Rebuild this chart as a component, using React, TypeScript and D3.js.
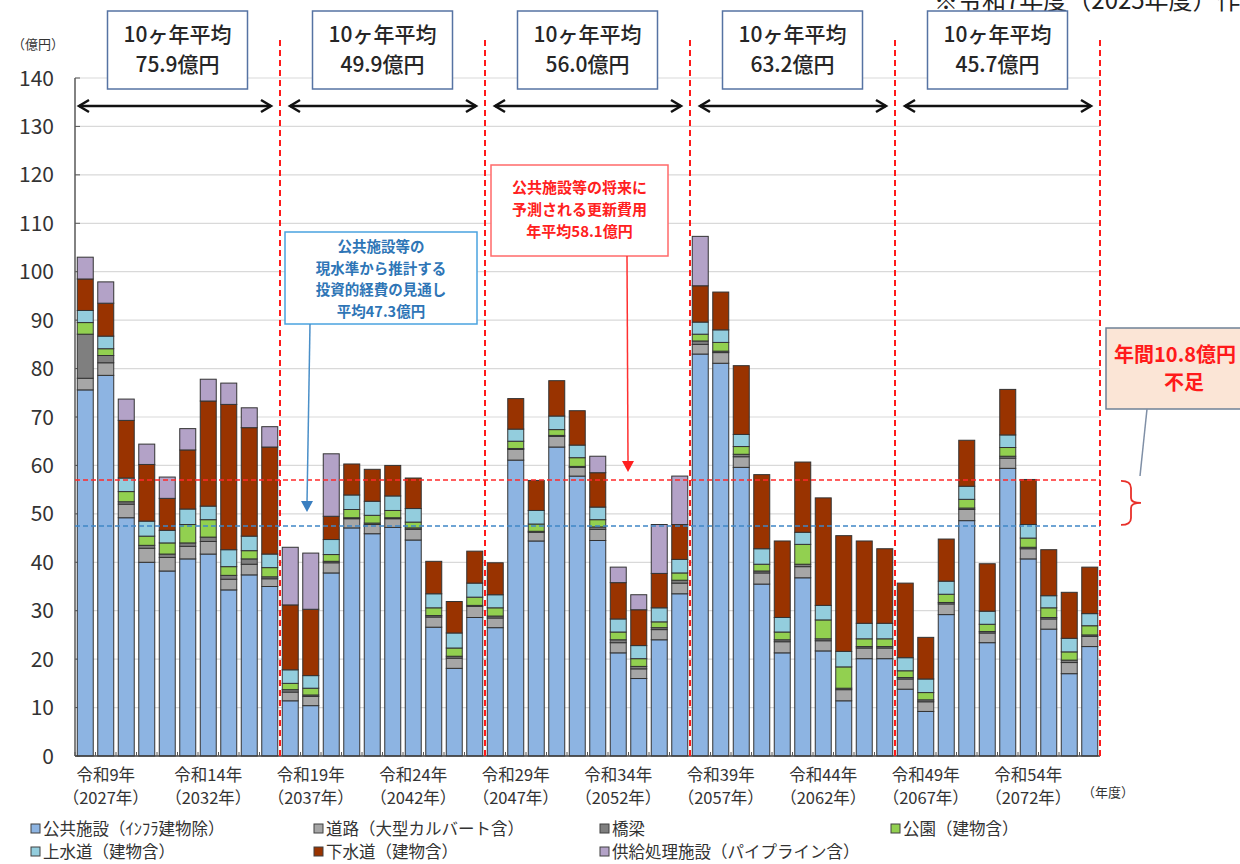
import React from 'react';
import * as d3 from 'd3';

// ---- data (億円) ----
const publicFacilities = [75.6,78.6,49.2,40.0,38.2,40.7,41.7,34.3,37.4,35.0, 11.4,10.4,37.8,47.1,45.9,47.2,44.6,26.6,18.1,28.6, 26.5,61.1,44.4,63.8,57.8,44.5,21.3,16.0,24.0,33.5, 83.0,81.1,59.6,35.5,21.3,36.8,21.7,11.4,20.1,20.1, 13.8,9.2,29.2,48.6,23.4,59.4,40.7,26.2,17.0,22.6];
const roads = [2.4,2.6,2.8,2.9,2.8,2.6,2.6,2.2,2.2,1.6, 1.8,1.9,2.1,1.9,1.9,1.8,2.2,2.1,2.1,2.3, 2.0,2.2,1.8,2.2,1.8,2.3,2.1,2.0,2.1,2.2, 2.0,2.2,2.2,2.3,2.3,2.3,2.1,2.3,2.2,2.2, 2.1,2.0,2.2,2.3,2.0,2.1,2.1,2.1,2.3,2.1];
const bridges = [9.1,1.5,0.5,0.6,0.7,0.7,0.9,0.8,1.1,0.4, 0.5,0.3,0.3,0.2,0.3,0.2,0.3,0.3,0.4,0.2, 0.4,0.2,0.2,0.2,0.2,0.5,0.6,0.5,0.4,0.6, 0.7,0.3,0.5,0.4,0.4,0.5,0.4,0.3,0.3,0.3, 0.3,0.4,0.3,0.3,0.3,0.4,0.3,0.3,0.5,0.3];
const parks = [2.4,1.4,2.1,1.9,2.3,3.8,3.6,1.8,1.7,1.9, 1.3,1.4,1.4,1.7,1.6,1.5,1.2,1.6,1.7,1.7, 1.7,1.5,1.5,1.2,1.8,1.5,1.6,1.6,1.2,1.5, 1.4,1.8,1.6,1.4,1.6,4.1,3.9,4.4,1.6,1.6, 1.4,1.5,1.7,1.8,1.5,1.8,1.9,2.0,1.7,1.9];
const waterSupply = [2.5,2.6,2.8,3.1,2.6,3.2,2.8,3.5,3.0,2.8, 2.8,2.6,3.1,3.0,2.9,3.0,2.8,2.9,3.1,2.9, 2.7,2.5,2.8,2.8,2.6,2.6,2.7,2.7,2.9,2.8, 2.5,2.6,2.5,3.2,3.0,2.5,3.0,3.2,3.2,3.2, 2.7,2.8,2.7,2.7,2.7,2.6,2.8,2.5,2.8,2.5];
const sewerage = [6.5,6.8,11.9,11.7,6.6,12.2,21.7,30.0,22.4,22.1, 13.4,13.7,4.8,6.4,6.6,6.3,6.3,6.7,6.5,6.6, 6.6,6.3,6.2,7.3,7.1,7.1,7.5,7.4,7.1,7.2, 7.5,7.8,14.2,15.3,15.8,14.5,22.2,23.9,17.0,15.4, 15.4,8.6,8.7,9.5,9.8,9.4,9.3,9.5,9.5,9.6];
const supplyFacilities = [4.5,4.4,4.4,4.2,4.4,4.4,4.5,4.4,4.1,4.2, 11.9,11.6,12.9,0,0,0,0,0,0,0, 0,0,0,0,0,3.4,3.2,3.1,10.1,10.0, 10.2,0,0,0,0,0,0,0,0,0, 0,0,0,0,0,0,0,0,0,0];

const seriesNames = ['公共施設（ｲﾝﾌﾗ建物除）','道路（大型カルバート含）','橋梁','公園（建物含）','上水道（建物含）','下水道（建物含）','供給処理施設（パイプライン含）'];
const seriesColors = ['#8db4e2','#a6a6a6','#7f7f7f','#92d050','#93cddd','#993300','#b3a2c7'];

const tickEra = ['令和9年','令和14年','令和19年','令和24年','令和29年','令和34年','令和39年','令和44年','令和49年','令和54年'];
const tickWestern = ['（2027年）','（2032年）','（2037年）','（2042年）','（2047年）','（2052年）','（2057年）','（2062年）','（2067年）','（2072年）'];
const yTicks = [0,10,20,30,40,50,60,70,80,90,100,110,120,130,140];

const decadeAverages = ['75.9','49.9','56.0','63.2','45.7'];
const investmentLine = 47.5; // 投資的経費の見通し（平均47.3億円）
const renewalLine = 57.0;    // 更新費用（年平均58.1億円）

const W = 1240, H = 864;
const X0 = 75, X1 = 1100;
const FONT = '"Noto Sans CJK JP", "Noto Sans", sans-serif';

export default function App() {
  const allSeries = [publicFacilities, roads, bridges, parks, waterSupply, sewerage, supplyFacilities];
  const n = publicFacilities.length;
  const keys = seriesNames.map((_, k) => 's' + k);
  const rows = d3.range(n).map(i => {
    const r: any = { i };
    allSeries.forEach((s, k) => (r['s' + k] = s[i]));
    return r;
  });
  const stacked = d3.stack<any>().keys(keys)(rows);

  const x = d3.scaleBand<number>().domain(d3.range(n)).range([X0, X1]).paddingInner(0.22).paddingOuter(0.11);
  const step = x.step();
  const y = d3.scaleLinear().domain([0, 140]).range([756, 78]);
  const slot = (i: number) => X0 + i * step;

  const groups = d3.range(5);
  const legendCols = [31, 314, 600, 891];
  const legendPos = [[0, 0], [1, 0], [2, 0], [3, 0], [0, 1], [1, 1], [2, 1]];
  const yR = y(renewalLine), yI = y(investmentLine), yM = (yR + yI) / 2;

  return (
    <svg width={W} height={H} style={{ position: 'absolute', left: 0, top: 0, background: '#fff' }} fontFamily={FONT}>
      <rect x={0} y={0} width={W} height={H} fill="#fff" />
      {/* top-right note (clipped at the top edge as in the source) */}
      <text x={934} y={9} fontSize={24} fill="#222">※令和7年度（2025年度）作成</text>

      {/* gridlines */}
      {yTicks.filter(v => v > 0).map(v => (
        <line key={v} x1={X0} x2={X1} y1={y(v)} y2={y(v)} stroke="#d9d9d9" strokeWidth={1.2} />
      ))}
      {/* y tick labels */}
      {yTicks.map(v => (
        <g key={'t' + v}>
          <line x1={X0} x2={X0 + 5} y1={y(v)} y2={y(v)} stroke="#595959" />
          <text x={54} y={y(v)} dy="0.36em" textAnchor="end" fontSize={21} fill="#333">{v}</text>
        </g>
      ))}
      <text x={12} y={49} fontSize={13} fill="#333">（億円）</text>

      {/* bars */}
      {stacked.map((layer, k) => (
        <g key={k} fill={seriesColors[k]} stroke="#333" strokeWidth={1}>
          {layer.map((d, i) => (d[1] - d[0] > 0 ? (
            <rect key={i} x={x(i)} width={x.bandwidth()} y={y(d[1])} height={y(d[0]) - y(d[1])} />
          ) : null))}
        </g>
      ))}

      {/* axes */}
      <line x1={X0} x2={X0} y1={y(140)} y2={y(0)} stroke="#595959" strokeWidth={1.5} />
      <line x1={X0} x2={X1} y1={y(0)} y2={y(0)} stroke="#404040" strokeWidth={1.5} />
      {d3.range(n + 1).map(i => (
        <line key={'xt' + i} x1={slot(i)} x2={slot(i)} y1={y(0)} y2={y(0) - 4} stroke="#595959" />
      ))}

      {/* horizontal reference lines */}
      <line x1={X0} x2={X1} y1={yR} y2={yR} stroke="#ff2a2a" strokeWidth={1.4} strokeDasharray="5,3" />
      <line x1={X0} x2={X1} y1={yI} y2={yI} stroke="#3f86c6" strokeWidth={1.4} strokeDasharray="5,3" />

      {/* decade separators */}
      {groups.map(g => (
        <line key={'sep' + g} x1={slot((g + 1) * 10)} x2={slot((g + 1) * 10)} y1={40} y2={y(0)} stroke="#ff1a1a" strokeWidth={2} strokeDasharray="6,4" />
      ))}

      {/* decade arrows and boxes */}
      {groups.map(g => {
        const a = slot(g * 10) + (g === 0 ? 4 : 10);
        const b = slot((g + 1) * 10) - 9;
        const cx = (slot(g * 10) + slot((g + 1) * 10)) / 2;
        const ay = 106;
        return (
          <g key={'dec' + g}>
            <line x1={a} x2={b} y1={ay} y2={ay} stroke="#111" strokeWidth={2.5} />
            <polyline points={`${a + 10},${ay - 6} ${a},${ay} ${a + 10},${ay + 6}`} fill="none" stroke="#111" strokeWidth={2.5} />
            <polyline points={`${b - 10},${ay - 6} ${b},${ay} ${b - 10},${ay + 6}`} fill="none" stroke="#111" strokeWidth={2.5} />
            <rect x={cx - 70} y={11} width={140} height={78} fill="#fff" stroke="#5673a3" strokeWidth={1.5} />
            <text x={cx} y={42} textAnchor="middle" fontSize={21} fill="#262626" fontWeight={500}>10ヶ年平均</text>
            <text x={cx} y={72} textAnchor="middle" fontSize={21} fill="#262626" fontWeight={500}>{decadeAverages[g]}億円</text>
          </g>
        );
      })}

      {/* blue annotation */}
      <rect x={285} y={232} width={192} height={92} fill="#fff" stroke="#4aa3df" strokeWidth={1.5} />
      {['公共施設等の', '現水準から推計する', '投資的経費の見通し', '平均47.3億円'].map((t, i) => (
        <text key={'b' + i} x={381} y={252 + i * 21.5} textAnchor="middle" fontSize={14.5} fill="#2e75b6" fontWeight={600}>{t}</text>
      ))}
      <line x1={310} y1={324} x2={307} y2={503} stroke="#4a8fc8" strokeWidth={1.5} />
      <polygon points={`301,501 313,501 307,512`} fill="#3a7fc0" />

      {/* red annotation */}
      <rect x={491} y={165} width={177} height={91} fill="#fff" stroke="#ff6a6a" strokeWidth={1.5} />
      {['公共施設等の将来に', '予測される更新費用', '年平均58.1億円'].map((t, i) => (
        <text key={'r' + i} x={579.5} y={193 + i * 22} textAnchor="middle" fontSize={15} fill="#ff2020" fontWeight={600}>{t}</text>
      ))}
      <line x1={627} y1={256} x2={628} y2={462} stroke="#ff3030" strokeWidth={1.5} />
      <polygon points={`622,461 634,461 628,472`} fill="#ff2020" />

      {/* shortfall annotation */}
      <rect x={1106} y={328} width={150} height={81} fill="#fbe5d6" stroke="#6f8196" strokeWidth={1.5} />
      <text x={1175} y={362} textAnchor="middle" fontSize={20} fill="#ff1a1a" fontWeight={700}>年間10.8億円</text>
      <text x={1184} y={390} textAnchor="middle" fontSize={20} fill="#ff1a1a" fontWeight={700}>不足</text>
      <line x1={1147} y1={409} x2={1140} y2={476} stroke="#7f8fa6" strokeWidth={1.5} />
      <path d={`M1121,${yR + 1} Q1131,${yR + 1} 1131,${yR + 8} L1131,${yM - 5} Q1131,${yM} 1141,${yM} Q1131,${yM} 1131,${yM + 5} L1131,${yI - 8} Q1131,${yI - 1} 1121,${yI - 1}`}
        fill="none" stroke="#e8302a" strokeWidth={1.8} />

      {/* x labels */}
      {tickEra.map((t, k) => (
        <g key={'xl' + k}>
          <text x={slot(k * 5) + 1.5 * step} y={781} textAnchor="middle" fontSize={16.5} fill="#333">{t}</text>
          <text x={slot(k * 5) + 1.5 * step} y={804} textAnchor="middle" fontSize={16.5} fill="#333">{tickWestern[k]}</text>
        </g>
      ))}
      <text x={1082} y={797} fontSize={13} fill="#333">（年度）</text>

      {/* legend */}
      {seriesNames.map((name, k) => {
        const [c, r] = legendPos[k];
        const lx = legendCols[c];
        const ly = 829 + r * 23;
        return (
          <g key={'lg' + k}>
            <rect x={lx} y={ly - 5} width={9} height={9} fill={seriesColors[k]} stroke="#404040" strokeWidth={1} />
            <text x={lx + 12} y={ly} dy="0.36em" fontSize={16.5} fill="#333">{name}</text>
          </g>
        );
      })}
    </svg>
  );
}
